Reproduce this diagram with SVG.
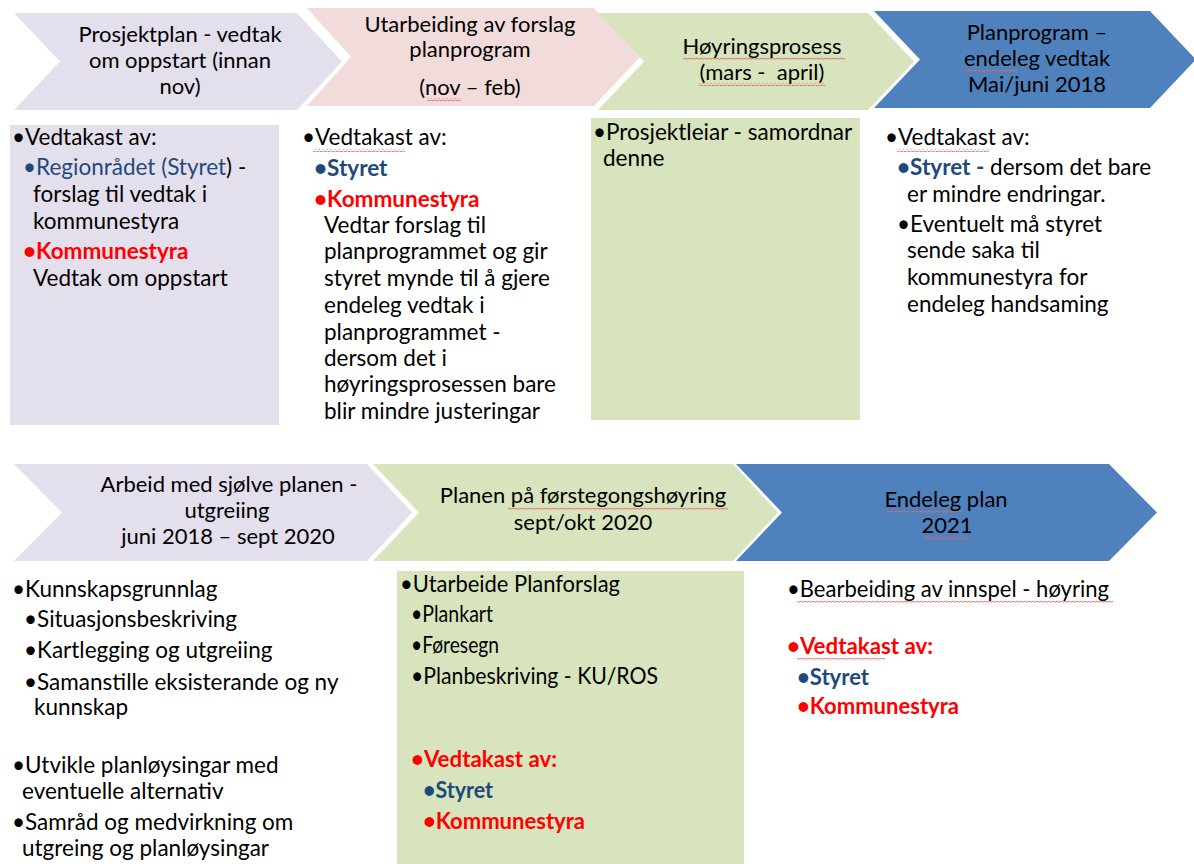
<svg xmlns="http://www.w3.org/2000/svg" width="1194" height="864" viewBox="0 0 1194 864">
<style>
text{font-family:Lato,"Open Sans","Noto Sans",sans-serif;font-size:22.5px;fill:#000}
.c{text-anchor:middle;font-size:22px}
.b{font-weight:bold}
.blue{fill:#1F497D}
.red{fill:#FF0000}
.lav{fill:#E4DFEC}
.pink{fill:#F2DCDB}
.grn{fill:#D7E4BD}
.blu{fill:#4F81BD}
.sq{fill:url(#wave)}
</style>
<defs>
<pattern id="wave" width="4" height="3" patternUnits="userSpaceOnUse">
<path d="M0,2 Q1,0.5 2,1.5 T4,2" fill="none" stroke="#E06666" stroke-width="0.9"/>
</pattern>
</defs>
<rect width="1194" height="864" fill="#fff"/>
<g id="connectors"></g>
<g id="step1">
<path class="lav" d="M14,13 L297,13 L342,61.5 L297,110 L14,110 L60,61.5 Z"/>
<text class="c" x="180" y="42">Prosjektplan - vedtak</text>
<text class="c" x="180" y="68">om oppstart (innan</text>
<text class="c" x="180" y="94">nov)</text>
</g>
<g id="step2">
<path class="pink" d="M307,8 L594,8 L640,57 L594,106 L307,106 L351,57 Z"/>
<text class="c" x="470" y="32">Utarbeiding av forslag</text>
<text class="c" x="470" y="57">planprogram</text>
<text class="c" x="470" y="95">(nov – feb)</text>
</g>
<g id="step3">
<path class="grn" d="M598,13 L868,13 L914,61.5 L868,110 L598,110 L644,61.5 Z"/>
<text class="c" x="762" y="54">Høyringsprosess</text>
<text class="c" x="762" y="80">(mars -&#160; april)</text>
</g>
<g id="step4">
<path class="blu" d="M874,11 L1150,11 L1196,59.5 L1150,108 L874,108 L920,59.5 Z"/>
<text class="c" x="1037" y="40">Planprogram –</text>
<text class="c" x="1037" y="66">endeleg vedtak</text>
<text class="c" x="1037" y="92">Mai/juni 2018</text>
</g>
<g id="box1">
<rect class="lav" x="10" y="125" width="269" height="300"/>
<text x="12" y="145">•Vedtakast av:</text>
<text x="23" y="175"><tspan class="blue">•Regionrådet (Styret</tspan>) -</text>
<text x="33" y="202">forslag til vedtak i</text>
<text x="33" y="229">kommunestyra</text>
<text x="23" y="259" class="b red">•Kommunestyra</text>
<text x="33" y="286">Vedtak om oppstart</text>
</g>
<g id="box2">
<text x="302" y="145">•Vedtakast av:</text>
<text x="314" y="176" class="b blue">•Styret</text>
<text x="314" y="207" class="b red">•Kommunestyra</text>
<text x="324" y="233">Vedtar forslag til</text>
<text x="324" y="259">planprogrammet og gir</text>
<text x="324" y="286">styret mynde til å gjere</text>
<text x="324" y="313">endeleg vedtak i</text>
<text x="324" y="340">planprogrammet -</text>
<text x="324" y="366">dersom det i</text>
<text x="324" y="392">høyringsprosessen bare</text>
<text x="324" y="419">blir mindre justeringar</text>
</g>
<g id="box3">
<rect class="grn" x="591" y="118" width="269" height="302"/>
<text x="593" y="140">•Prosjektleiar - samordnar</text>
<text x="603" y="166">denne</text>
</g>
<g id="box4">
<text x="885" y="145">•Vedtakast av:</text>
<text x="897" y="175"><tspan class="b blue">•Styret -</tspan> dersom det bare</text>
<text x="907" y="202">er mindre endringar.</text>
<text x="897" y="232">•Eventuelt må styret</text>
<text x="907" y="258">sende saka til</text>
<text x="907" y="285">kommunestyra for</text>
<text x="907" y="312">endeleg handsaming</text>
</g>
<g id="step5">
<path class="lav" d="M14,464 L367,464 L412,512.5 L367,561 L14,561 L62,512.5 Z"/>
<text class="c" x="229" y="492">Arbeid med sjølve planen -</text>
<text class="c" x="227" y="518">utgreiing</text>
<text class="c" x="228" y="544">juni 2018 – sept 2020</text>
</g>
<g id="step6">
<path class="grn" d="M373,464 L733,464 L778,512.5 L733,561 L373,561 L419,512.5 Z"/>
<text class="c" x="583" y="503">Planen på førstegongshøyring</text>
<text class="c" x="583" y="530">sept/okt 2020</text>
</g>
<g id="step7">
<path class="blu" d="M736,464 L1109,464 L1157,512.5 L1109,561 L736,561 L782,512.5 Z"/>
<text class="c" x="946" y="507">Endeleg plan</text>
<text class="c" x="947" y="533">2021</text>
</g>
<g id="box5">
<text x="12" y="597">•Kunnskapsgrunnlag</text>
<text x="24" y="627">•Situasjonsbeskriving</text>
<text x="24" y="658">•Kartlegging og utgreiing</text>
<text x="24" y="690">•Samanstille eksisterande og ny</text>
<text x="34" y="715">kunnskap</text>
<text x="12" y="773">•Utvikle planløysingar med</text>
<text x="22" y="799">eventuelle alternativ</text>
<text x="12" y="830">•Samråd og medvirkning om</text>
<text x="22" y="856">utgreing og planløysingar</text>
</g>
<g id="box6">
<rect class="grn" x="397" y="571" width="347" height="293"/>
<text x="400" y="592" textLength="220" lengthAdjust="spacingAndGlyphs">•Utarbeide Planforslag</text>
<text x="411" y="622" textLength="82" lengthAdjust="spacingAndGlyphs">•Plankart</text>
<text x="411" y="653" textLength="88" lengthAdjust="spacingAndGlyphs">•Føresegn</text>
<text x="411" y="684" textLength="247" lengthAdjust="spacingAndGlyphs">•Planbeskriving - KU/ROS</text>
<text x="411" y="767" class="b red" textLength="146" lengthAdjust="spacingAndGlyphs">•Vedtakast av:</text>
<text x="423" y="798" class="b blue" textLength="70" lengthAdjust="spacingAndGlyphs">•Styret</text>
<text x="423" y="829" class="b red" textLength="162" lengthAdjust="spacingAndGlyphs">•Kommunestyra</text>
</g>
<g id="box7">
<text x="787" y="597" textLength="322" lengthAdjust="spacingAndGlyphs">•Bearbeiding av innspel - høyring</text>
<text x="787" y="654" class="b red" textLength="146" lengthAdjust="spacingAndGlyphs">•Vedtakast av:</text>
<text x="797" y="685" class="b blue" textLength="72" lengthAdjust="spacingAndGlyphs">•Styret</text>
<text x="797" y="714" class="b red" textLength="162" lengthAdjust="spacingAndGlyphs">•Kommunestyra</text>
</g>
<g id="spellcheck">
<rect class="sq" x="427" y="98" width="34" height="3"/>
<rect class="sq" x="683" y="57" width="162" height="3"/>
<rect class="sq" x="699" y="83" width="126" height="3"/>
<rect class="sq" x="965" y="70" width="52" height="3"/>
<rect class="sq" x="313" y="149" width="92" height="3"/>
<rect class="sq" x="897" y="149" width="92" height="3"/>
<rect class="sq" x="508" y="507" width="220" height="3"/>
<rect class="sq" x="886" y="511" width="76" height="3"/>
<rect class="sq" x="924" y="536" width="46" height="3"/>
<rect class="sq" x="797" y="601" width="316" height="3"/>
<rect class="sq" x="797" y="658" width="88" height="3"/>
</g>
</svg>
